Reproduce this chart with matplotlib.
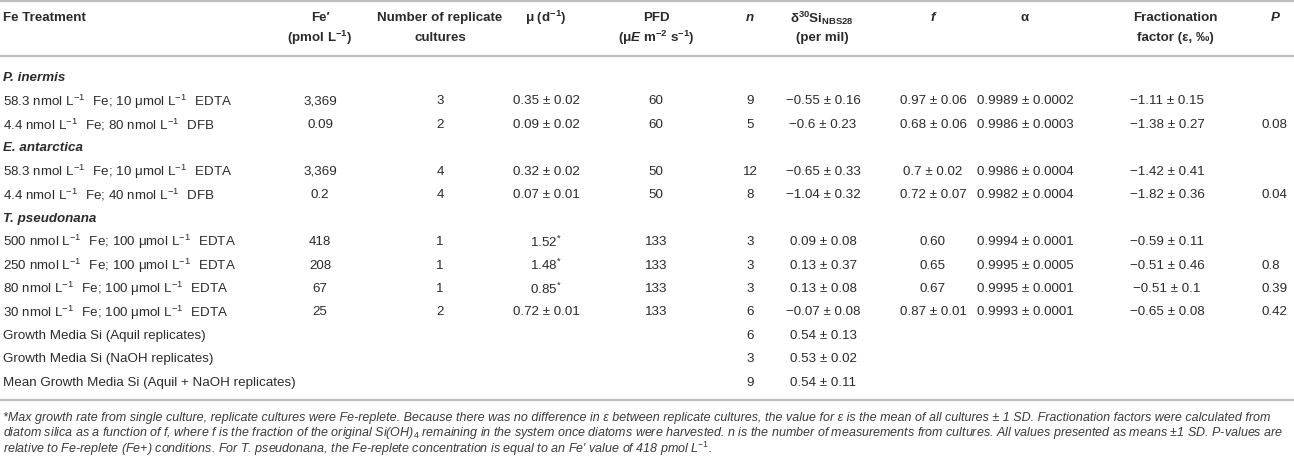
import matplotlib
matplotlib.use('Agg')
import matplotlib.pyplot as plt

plt.rcParams['font.family'] = ['Liberation Sans', 'DejaVu Sans']
plt.rcParams['mathtext.fontset'] = 'custom'
plt.rcParams['mathtext.rm'] = 'Liberation Sans'
plt.rcParams['mathtext.it'] = 'Liberation Sans:italic'
plt.rcParams['mathtext.bf'] = 'Liberation Sans:bold'
plt.rcParams['mathtext.bfit'] = 'Liberation Sans:bold:italic'

SUP = r'$^{-1}\;\,$'   # superscript -1 with a bit of room after it, like the source

# table content
row_labels = ['P. inermis',
              '58.3 nmol L' + SUP + ' Fe; 10 μmol L' + SUP + ' EDTA',
              '4.4 nmol L' + SUP + ' Fe; 80 nmol L' + SUP + ' DFB',
              'E. antarctica',
              '58.3 nmol L' + SUP + ' Fe; 10 μmol L' + SUP + ' EDTA',
              '4.4 nmol L' + SUP + ' Fe; 40 nmol L' + SUP + ' DFB',
              'T. pseudonana',
              '500 nmol L' + SUP + ' Fe; 100 μmol L' + SUP + ' EDTA',
              '250 nmol L' + SUP + ' Fe; 100 μmol L' + SUP + ' EDTA',
              '80 nmol L' + SUP + ' Fe; 100 μmol L' + SUP + ' EDTA',
              '30 nmol L' + SUP + ' Fe; 100 μmol L' + SUP + ' EDTA',
              'Growth Media Si (Aquil replicates)',
              'Growth Media Si (NaOH replicates)',
              'Mean Growth Media Si (Aquil + NaOH replicates)']
is_group = [True, False, False, True, False, False, True,
            False, False, False, False, False, False, False]
fe_prime = ['', '3,369', '0.09', '', '3,369', '0.2', '', '418', '208', '67', '25', '', '', '']
n_reps = ['', '3', '2', '', '4', '4', '', '1', '1', '1', '2', '', '', '']
mu = ['', '0.35 ± 0.02', '0.09 ± 0.02', '', '0.32 ± 0.02', '0.07 ± 0.01', '',
      r'1.52$^{*}$', r'1.48$^{*}$', r'0.85$^{*}$', '0.72 ± 0.01', '', '', '']
pfd = ['', '60', '60', '', '50', '50', '', '133', '133', '133', '133', '', '', '']
n_meas = ['', '9', '5', '', '12', '8', '', '3', '3', '3', '6', '6', '3', '9']
delta = ['', '−0.55 ± 0.16', '−0.6 ± 0.23', '', '−0.65 ± 0.33', '−1.04 ± 0.32', '',
         '0.09 ± 0.08', '0.13 ± 0.37', '0.13 ± 0.08', '−0.07 ± 0.08',
         '0.54 ± 0.13', '0.53 ± 0.02', '0.54 ± 0.11']
f_vals = ['', '0.97 ± 0.06', '0.68 ± 0.06', '', '0.7 ± 0.02', '0.72 ± 0.07', '',
          '0.60', '0.65', '0.67', '0.87 ± 0.01', '', '', '']
alpha = ['', '0.9989 ± 0.0002', '0.9986 ± 0.0003', '', '0.9986 ± 0.0004', '0.9982 ± 0.0004', '',
         '0.9994 ± 0.0001', '0.9995 ± 0.0005', '0.9995 ± 0.0001', '0.9993 ± 0.0001', '', '', '']
eps = ['', '−1.11 ± 0.15', '−1.38 ± 0.27', '', '−1.42 ± 0.41', '−1.82 ± 0.36', '',
       '−0.59 ± 0.11', '−0.51 ± 0.46', '−0.51 ± 0.1', '−0.65 ± 0.08', '', '', '']
p_vals = ['', '', '0.08', '', '', '0.04', '', '', '0.8', '0.39', '0.42', '', '', '']

headers = [
    ('Fe Treatment', ''),
    ('Fe′', r'(pmol L$^{\mathbf{-1}}$)'),
    ('Number of replicate', 'cultures'),
    (r'μ (d$^{\mathbf{-1}}$)', ''),
    ('PFD', r'(μ$\mathbfit{E}$ m$^{\mathbf{-2}}$ s$^{\mathbf{-1}}$)'),
    ('n', ''),
    (r'δ$^{\mathbf{30}}$Si$_{\mathbf{NBS28}}$', '(per mil)'),
    ('f', ''),
    ('α', ''),
    ('Fractionation', 'factor (ε, ‰)'),
    ('P', ''),
]
italic_headers = ['n', 'f', 'P']

footnote = [
    r"*Max growth rate from single culture, replicate cultures were Fe-replete. Because there was no difference in ε between replicate cultures, the value for ε is the mean of all cultures ± 1 SD. Fractionation factors were calculated from",
    r"diatom silica as a function of f, where f is the fraction of the original Si(OH)$_{\mathit{4}}$ remaining in the system once diatoms were harvested. n is the number of measurements from cultures. All values presented as means ±1 SD. P-values are",
    r"relative to Fe-replete (Fe+) conditions. For T. pseudonana, the Fe-replete concentration is equal to an Fe′ value of 418 pmol L$^{\mathit{-1}}$.",
]

# layout (pixels)
head_x = [3, 320, 440, 546, 656, 750, 822, 933, 1025, 1175, 1275]
col_x = [320, 440, 546, 656, 750, 823, 933, 1025, 1167, 1262]
col_ha = ['center'] * 9 + ['left']
row_y0, row_dy = 78, 23.45
txt_color = '#2b2b2b'
line_color = '#bdbdbd'
fs = 9.6

fig = plt.figure(figsize=(12.94, 4.6), dpi=100)
ax = fig.add_axes([0, 0, 1, 1])
ax.set_xlim(0, 1294)
ax.set_ylim(460, 0)
ax.axis('off')

for y in (2, 57, 401):
    ax.axhline(y, color=line_color, lw=1.6)

for i, ((h1, h2), x) in enumerate(zip(headers, head_x)):
    ha = 'left' if i == 0 else 'center'
    style = 'italic' if h1 in italic_headers else 'normal'
    ax.text(x, 18, h1, ha=ha, va='center', fontsize=fs, fontweight='bold',
            style=style, color=txt_color)
    if h2:
        ax.text(x, 38, h2, ha=ha, va='center', fontsize=fs, fontweight='bold',
                color=txt_color)

columns = [fe_prime, n_reps, mu, pfd, n_meas, delta, f_vals, alpha, eps, p_vals]
for i, label in enumerate(row_labels):
    y = row_y0 + i * row_dy
    if is_group[i]:
        ax.text(3, y, label, ha='left', va='center', fontsize=fs, fontweight='bold',
                style='italic', color=txt_color)
    else:
        ax.text(3, y, label, ha='left', va='center', fontsize=fs, color=txt_color)
    for vals, x, ha in zip(columns, col_x, col_ha):
        if vals[i]:
            ax.text(x, y, vals[i], ha=ha, va='center', fontsize=fs, color=txt_color)

for k, line in enumerate(footnote):
    ax.text(3, 418 + k * 15.5, line, ha='left', va='center', fontsize=9.0,
            style='italic', color='#3a3a3a')

fig.savefig('out.png', dpi=100)
